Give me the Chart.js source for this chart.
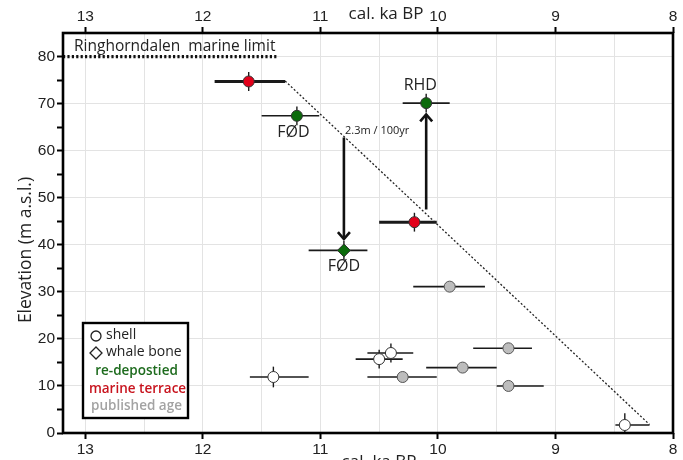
<!DOCTYPE html>
<html>
<head>
<meta charset="utf-8">
<script src="https://cdn.jsdelivr.net/npm/chart.js@4.4.1/dist/chart.umd.min.js"></script>
<style>
  html, body { margin: 0; padding: 0; background: #fff; }
</style>
</head>
<body>
<canvas id="canvas" width="683" height="460"></canvas>
<script>
// ages in cal. ka BP, elevation in m a.s.l.
// marine terrace (red)
const terraceAge = [11.61, 10.20];
const terraceAgeMin = [11.30, 10.01];
const terraceAgeMax = [11.90, 10.50];
const terraceElev = [74.7, 44.8];
const terraceElevErr = [2, 2];

// re-deposited shells (green circles)
const redepShellAge = [11.20, 10.10];
const redepShellAgeMin = [11.01, 9.90];
const redepShellAgeMax = [11.50, 10.30];
const redepShellElev = [67.4, 70.1];
const redepShellElevErr = [2, 2];

// re-deposited whale bone (green diamond)
const redepBoneAge = [10.80];
const redepBoneAgeMin = [10.60];
const redepBoneAgeMax = [11.10];
const redepBoneElev = [38.8];
const redepBoneElevErr = [2];

// published ages (grey)
const pubAge = [9.90, 9.40, 9.79, 10.30, 9.40];
const pubAgeMin = [9.60, 9.20, 9.50, 10.01, 9.10];
const pubAgeMax = [10.21, 9.70, 10.10, 10.60, 9.50];
const pubElev = [31.1, 18.0, 13.9, 11.9, 10.0];

// shells (white)
const shellAge = [11.40, 10.50, 10.40, 8.41];
const shellAgeMin = [11.10, 10.30, 10.21, 8.20];
const shellAgeMax = [11.60, 10.70, 10.60, 8.49];
const shellElev = [11.9, 15.7, 17.0, 1.7];
const shellElevErr = [2.2, 2, 2, 2.5];

// marine limit and emergence line
const limitAge = [13.19, 11.36];
const limitElev = [80, 80];
const trendAge = [11.30, 8.20];
const trendElev = [74.8, 1.8];

// arrows
const arrowAge = [10.80, 10.10];
const arrowFrom = [62.8, 47.5];
const arrowTo = [41.2, 67.7];

// text labels
const labelText = ['FØD', 'FØD', 'RHD'];
const labelAge = [11.23, 10.80, 10.15];
const labelElev = [63.9, 35.4, 73.8];
const rateText = '2.3m / 100yr';
const rateAge = 10.79;
const rateElev = 64.2;

const xTicks = [8, 8.5, 9, 9.5, 10, 10.5, 11, 11.5, 12, 12.5, 13];
const yTicks = [0, 5, 10, 15, 20, 25, 30, 35, 40, 45, 50, 55, 60, 65, 70, 75, 80];

function points(age, lo, hi, elev, err) {
  return age.map(function (a, i) {
    return { x: a, y: elev[i], xMin: lo[i], xMax: hi[i], yErr: err ? err[i] : 0 };
  });
}
function line(ages, elevs) {
  return ages.map(function (a, i) { return { x: a, y: elevs[i] }; });
}

var extras = {
  id: 'extras',
  beforeDatasetsDraw: function (chart) {
    var ctx = chart.ctx, xs = chart.scales.x, ys = chart.scales.y, a = chart.chartArea;
    ctx.save();
    ctx.beginPath();
    ctx.rect(a.left, a.top, a.right - a.left, a.bottom - a.top);
    ctx.clip();
    chart.data.datasets.forEach(function (ds) {
      if (!ds.errWidth) return;
      ds.data.forEach(function (p) {
        var py = ys.getPixelForValue(p.y), px = xs.getPixelForValue(p.x);
        ctx.strokeStyle = '#1a1a1a';
        ctx.lineWidth = ds.errWidth;
        ctx.beginPath();
        ctx.moveTo(xs.getPixelForValue(p.xMin), py);
        ctx.lineTo(xs.getPixelForValue(p.xMax), py);
        ctx.stroke();
        if (p.yErr) {
          ctx.lineWidth = 1.4;
          ctx.beginPath();
          ctx.moveTo(px, ys.getPixelForValue(p.y - p.yErr));
          ctx.lineTo(px, ys.getPixelForValue(p.y + p.yErr));
          ctx.stroke();
        }
      });
    });
    ctx.restore();
  },
  afterDatasetsDraw: function (chart) {
    var ctx = chart.ctx, xs = chart.scales.x, ys = chart.scales.y, a = chart.chartArea;
    ctx.save();
    // arrows
    ctx.strokeStyle = '#111';
    ctx.lineWidth = 2.6;
    arrowAge.forEach(function (age, i) {
      var x = xs.getPixelForValue(age);
      var y0 = ys.getPixelForValue(arrowFrom[i]), y1 = ys.getPixelForValue(arrowTo[i]);
      var dir = y1 > y0 ? 1 : -1;
      ctx.beginPath();
      ctx.moveTo(x, y0);
      ctx.lineTo(x, y1);
      ctx.stroke();
      ctx.beginPath();
      ctx.moveTo(x - 6, y1 - dir * 7);
      ctx.lineTo(x, y1);
      ctx.lineTo(x + 6, y1 - dir * 7);
      ctx.stroke();
    });
    // labels
    ctx.fillStyle = '#222';
    ctx.font = '16px "Open Sans"';
    ctx.textAlign = 'center';
    ctx.textBaseline = 'middle';
    labelText.forEach(function (t, i) {
      ctx.fillText(t, xs.getPixelForValue(labelAge[i]), ys.getPixelForValue(labelElev[i]));
    });
    ctx.font = '11px "Open Sans"';
    ctx.textAlign = 'left';
    ctx.fillText(rateText, xs.getPixelForValue(rateAge), ys.getPixelForValue(rateElev));
    ctx.font = '15.5px "Open Sans"';
    ctx.fillText('Ringhorndalen  marine limit', a.left + 11, a.top + 14);

    // frame
    ctx.strokeStyle = '#000';
    ctx.lineWidth = 2.6;
    ctx.strokeRect(a.left, a.top, a.right - a.left, a.bottom - a.top);

    // legend box
    var bx = a.left + 20, by = a.top + 290, bw = 105, bh = 95;
    ctx.fillStyle = '#fff';
    ctx.fillRect(bx, by, bw, bh);
    ctx.lineWidth = 2.4;
    ctx.strokeRect(bx, by, bw, bh);
    ctx.lineWidth = 1.3;
    ctx.strokeStyle = '#222';
    ctx.beginPath();
    ctx.arc(bx + 13, by + 13, 5, 0, Math.PI * 2);
    ctx.stroke();
    ctx.beginPath();
    ctx.moveTo(bx + 13, by + 24);
    ctx.lineTo(bx + 19, by + 30);
    ctx.lineTo(bx + 13, by + 36);
    ctx.lineTo(bx + 7, by + 30);
    ctx.closePath();
    ctx.stroke();
    ctx.fillStyle = '#222';
    ctx.font = '14px "Open Sans"';
    ctx.textAlign = 'left';
    ctx.fillText('shell', bx + 23, by + 12);
    ctx.fillText('whale bone', bx + 23, by + 29);
    ctx.textAlign = 'center';
    ctx.font = '600 13.5px "Open Sans"';
    ctx.fillStyle = '#1d6b1d';
    ctx.fillText('re-depostied', bx + bw / 2 + 1, by + 48);
    ctx.fillStyle = '#c8141e';
    ctx.fillText('marine terrace', bx + bw / 2 + 2, by + 66);
    ctx.fillStyle = '#a3a3a3';
    ctx.fillText('published age', bx + bw / 2 + 1, by + 83);

    // axis titles
    ctx.fillStyle = '#222';
    ctx.font = '17px "Open Sans"';
    ctx.textBaseline = 'alphabetic';
    ctx.fillText('cal. ka BP', 386, 19);
    ctx.fillText('cal. ka BP', 379, 467);
    ctx.translate(26, 250);
    ctx.rotate(-Math.PI / 2);
    ctx.textBaseline = 'middle';
    ctx.font = '17.5px "Open Sans"';
    ctx.fillText('Elevation (m a.s.l.)', 0, 0);
    ctx.restore();
  }
};

function xAxis(pos, height, grid) {
  return {
    type: 'linear',
    position: pos,
    reverse: true,
    min: 8,
    max: 13.19,
    afterBuildTicks: function (s) { s.ticks = xTicks.map(function (v) { return { value: v }; }); },
    afterFit: function (s) { s.height = height; },
    ticks: {
      autoSkip: false,
      maxRotation: 0,
      padding: 1,
      color: '#222',
      font: { family: 'Liberation Sans', size: 15.5 },
      callback: function (v) { return Number.isInteger(v) ? String(v) : ''; }
    },
    border: { display: false },
    grid: {
      drawOnChartArea: grid,
      color: '#e3e3e3',
      lineWidth: 1,
      tickLength: 6,
      tickWidth: 2,
      tickColor: function (c) { return Number.isInteger(c.tick.value) ? '#000' : 'rgba(0,0,0,0)'; }
    }
  };
}

var ctx = document.getElementById('canvas').getContext('2d');
var chart = new Chart(ctx, {
  type: 'scatter',
  data: {
    datasets: [
      { data: line(limitAge, limitElev), showLine: true, borderColor: '#111', borderWidth: 3.2,
        borderDash: [2.2, 2.2], pointRadius: 0 },
      { data: line(trendAge, trendElev), showLine: true, borderColor: '#222', borderWidth: 1.3,
        borderDash: [2, 2], pointRadius: 0 },
      { data: points(pubAge, pubAgeMin, pubAgeMax, pubElev), errWidth: 1.6,
        backgroundColor: '#bdbdbd', borderColor: '#555', borderWidth: 1, pointRadius: 5.5 },
      { data: points(shellAge, shellAgeMin, shellAgeMax, shellElev, shellElevErr), errWidth: 1.6,
        backgroundColor: '#fff', borderColor: '#333', borderWidth: 1, pointRadius: 5.5 },
      { data: points(redepShellAge, redepShellAgeMin, redepShellAgeMax, redepShellElev, redepShellElevErr), errWidth: 1.6,
        backgroundColor: '#0b6a0b', borderColor: '#333', borderWidth: 1, pointRadius: 5.5 },
      { data: points(redepBoneAge, redepBoneAgeMin, redepBoneAgeMax, redepBoneElev, redepBoneElevErr), errWidth: 1.6,
        backgroundColor: '#0b6a0b', borderColor: '#333', borderWidth: 1, pointRadius: 6.5, pointStyle: 'rectRot' },
      { data: points(terraceAge, terraceAgeMin, terraceAgeMax, terraceElev, terraceElevErr), errWidth: 3,
        backgroundColor: '#e2001a', borderColor: '#333', borderWidth: 1, pointRadius: 5.5 }
    ]
  },
  options: {
    responsive: false,
    animation: false,
    layout: { padding: { left: 0, right: 10, top: 0, bottom: 0 } },
    plugins: { legend: { display: false }, tooltip: { enabled: false } },
    scales: {
      x: xAxis('bottom', 27, true),
      x2: xAxis('top', 33, false),
      y: {
        type: 'linear',
        min: 0,
        max: 85,
        afterBuildTicks: function (s) { s.ticks = yTicks.map(function (v) { return { value: v }; }); },
        afterFit: function (s) { s.width = 63; },
        ticks: {
          padding: 2,
          color: '#222',
          font: { family: 'Liberation Sans', size: 15.5 },
          callback: function (v) { return v % 10 === 0 ? String(v) : ''; }
        },
        border: { display: false },
        grid: {
          color: function (c) { return c.tick.value % 10 === 0 ? '#e3e3e3' : 'rgba(0,0,0,0)'; },
          tickLength: 6,
          tickWidth: 2,
          tickColor: '#000'
        }
      }
    }
  },
  plugins: [extras]
});
</script>
</body>
</html>
